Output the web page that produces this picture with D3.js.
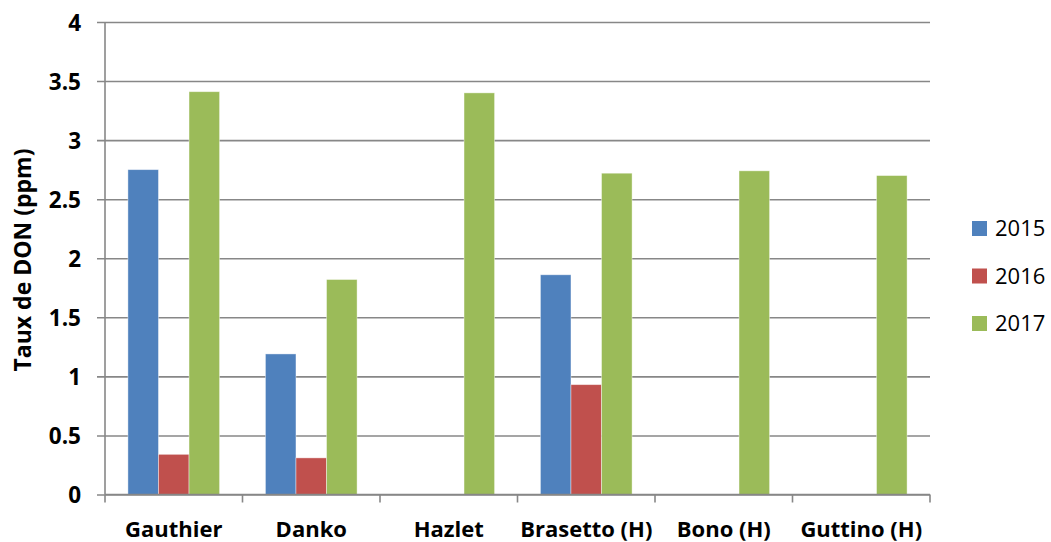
<!DOCTYPE html>
<html><head><meta charset="utf-8">
<script src="https://cdn.jsdelivr.net/npm/d3@7"></script>
<style>body{margin:0;background:#fff;}svg{display:block;}</style>
</head><body><svg id="c" width="1051" height="542"></svg>
<script>
const categories = ["Gauthier","Danko","Hazlet","Brasetto (H)","Bono (H)","Guttino (H)"];
const seriesNames = ["2015","2016","2017"];
const values2015 = [2.75, 1.19, null, 1.86, null, null];
const values2016 = [0.34, 0.31, null, 0.93, null, null];
const values2017 = [3.41, 1.82, 3.40, 2.72, 2.74, 2.70];
const yTicks = [0,0.5,1,1.5,2,2.5,3,3.5,4];
const colors = ["#4F81BD","#C0504D","#9BBB59"];

const series = [values2015, values2016, values2017];
const FONT = "'Open Sans', sans-serif";
const svg = d3.select("#c");
const L=105, R=930, T=22, B=494.5;
const x = d3.scaleBand().domain(categories).range([L,R]).paddingInner(0).paddingOuter(0);
const y = d3.scaleLinear().domain([0,4]).range([B,T]);
const bw = x.bandwidth()/4.5;
const xs = d3.scaleBand().domain(seriesNames).range([0, bw*3]);
const grid = "#878787";

const yAxis = d3.axisLeft(y).tickValues(yTicks).tickSize(-(R-L)).tickFormat(d=>d3.format("")(d));
const gy = svg.append("g").attr("transform",`translate(${L},0)`).call(yAxis);
gy.select(".domain").remove();
gy.selectAll(".tick line").attr("stroke",grid).attr("stroke-width",1.6).attr("x1",-8);
gy.selectAll(".tick text").attr("x",-24).attr("font-family",FONT)
  .attr("font-weight","bold").attr("font-size",22.5).attr("fill","#000").attr("dy","0.36em");

categories.forEach((c,i)=>{
  series.forEach((s,j)=>{
    const v=s[i]; if(v==null) return;
    svg.append("rect")
      .attr("x", x(c)+ (x.bandwidth()-bw*3)/2 + xs(seriesNames[j]))
      .attr("y", y(v)).attr("width", bw).attr("height", y(0)-y(v))
      .attr("fill", colors[j]).attr("stroke","rgba(255,255,255,0.5)").attr("stroke-width",0.8);
  });
});

svg.append("line").attr("x1",L).attr("x2",L).attr("y1",T).attr("y2",B).attr("stroke",grid).attr("stroke-width",1.6);
const xAxis = d3.axisBottom(x).tickSize(0);
const gx = svg.append("g").attr("transform",`translate(0,${B})`).call(xAxis);
gx.select(".domain").attr("stroke",grid).attr("stroke-width",1.6).attr("d",`M${L},0H${R}`);
gx.selectAll(".tick text").attr("y",42).attr("dy",0).attr("font-family",FONT)
  .attr("font-weight","bold").attr("font-size",22).attr("fill","#000");
const bounds = categories.map(c=>x(c)).concat([R]);
svg.selectAll(".bt").data(bounds).enter().append("line")
  .attr("x1",d=>d).attr("x2",d=>d).attr("y1",B).attr("y2",B+8).attr("stroke",grid).attr("stroke-width",1.6);

svg.append("text").attr("transform","translate(31,260) rotate(-90)").attr("text-anchor","middle")
  .attr("font-family",FONT).attr("font-weight","bold").attr("font-size",23)
  .text("Taux de DON (ppm)");

const leg = svg.append("g");
seriesNames.forEach((n,j)=>{
  const cy = 228.5 + j*47.5;
  leg.append("rect").attr("x",972).attr("y",cy-7.5).attr("width",15).attr("height",15).attr("fill",colors[j]);
  leg.append("text").attr("x",995).attr("y",cy).attr("dy","0.36em")
    .attr("font-family",FONT).attr("font-size",22).text(n);
});
</script></body></html>
